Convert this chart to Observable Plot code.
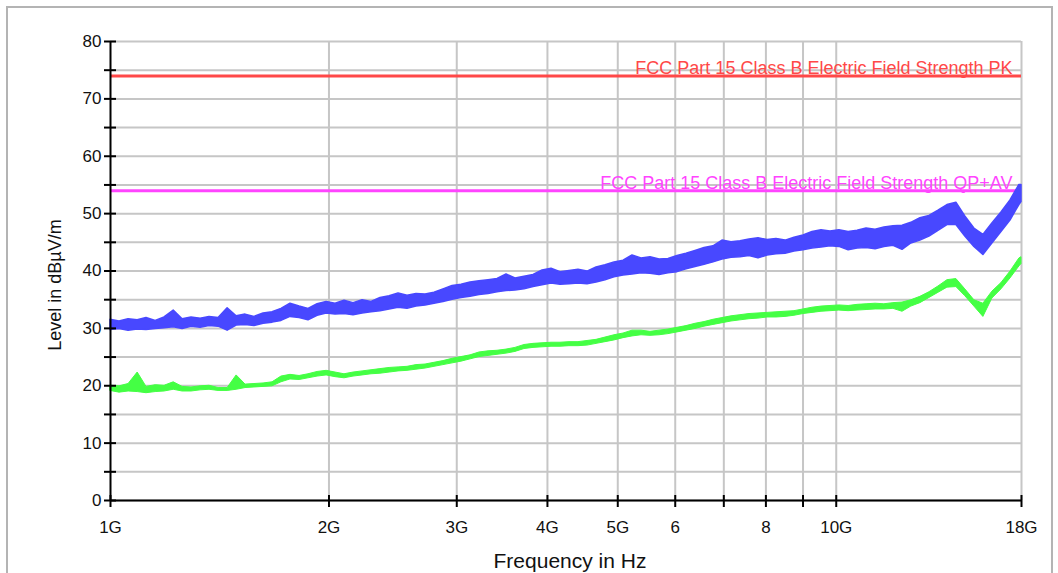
<!DOCTYPE html>
<html>
<head>
<meta charset="utf-8">
<script src="https://cdn.jsdelivr.net/npm/d3@7"></script>
<script src="https://cdn.jsdelivr.net/npm/@observablehq/plot@0.6"></script>
<style>
  html, body { margin: 0; padding: 0; background: #fff; overflow: hidden; }
  #wrap { position: relative; width: 1058px; height: 573px; }
  #border { position: absolute; left: 6px; top: 6px; width: 1047px; height: 600px; border: 2px solid #b4b4b4; box-sizing: border-box; }
  #chart { position: absolute; left: 0; top: 0; }
</style>
</head>
<body>
<div id="wrap"><div id="border"></div><div id="chart"></div></div>
<script>
// Frequency in GHz
const freqGHz = [1.000,1.029,1.059,1.090,1.121,1.154,1.187,1.222,1.257,1.293,1.331,1.369,1.409,1.450,1.492,1.535,1.579,1.625,1.672,1.720,1.770,1.822,1.874,1.929,1.985,2.042,2.101,2.162,2.225,2.289,2.355,2.424,2.494,2.566,2.640,2.717,2.795,2.876,2.960,3.045,3.134,3.224,3.318,3.414,3.513,3.614,3.719,3.827,3.938,4.052,4.169,4.290,4.414,4.542,4.674,4.809,4.948,5.092,5.239,5.391,5.547,5.708,5.873,6.043,6.218,6.398,6.584,6.774,6.970,7.172,7.380,7.594,7.814,8.040,8.273,8.513,8.759,9.013,9.274,9.543,9.819,10.10,10.40,10.70,11.01,11.33,11.65,11.99,12.34,12.69,13.06,13.44,13.83,14.23,14.64,15.06,15.50,15.95,16.41,16.89,17.38,17.88,18.0];

// Peak trace (blue): lower and upper edge of the noisy band, dBµV/m
const peakLo = [29.7,29.9,29.6,29.8,29.7,29.9,30.0,30.2,29.9,30.3,30.1,30.4,30.3,29.6,30.5,30.6,30.4,30.8,31.0,31.3,32.0,31.8,31.4,32.2,32.6,32.4,32.5,32.3,32.6,32.8,33.0,33.3,33.6,33.4,33.8,34.0,34.3,34.6,35.0,35.3,35.5,35.8,36.0,36.3,36.5,36.6,36.8,37.2,37.5,37.8,37.6,37.7,37.8,37.7,38.0,38.4,38.9,39.2,39.4,39.6,39.5,39.3,39.6,39.8,40.3,40.7,41.1,41.5,42.0,42.3,42.4,42.6,42.2,42.7,42.9,43.0,43.4,43.6,43.9,44.1,44.3,44.2,43.6,43.9,44.0,43.8,44.2,44.4,43.7,44.8,45.3,46.0,47.0,48.0,48.0,46.0,44.2,42.8,44.8,46.8,48.8,51.5,52.0];
const peakHi = [31.5,31.2,31.6,31.4,31.8,31.3,31.9,33.1,31.6,31.9,31.7,32.0,31.8,33.5,32.1,32.4,32.0,32.6,32.8,33.4,34.3,33.8,33.4,34.2,34.6,34.3,34.8,34.4,34.9,34.6,35.3,35.6,36.1,35.7,36.0,35.9,36.2,36.8,37.4,37.6,38.0,38.2,38.4,38.6,39.4,38.7,39.0,39.3,40.1,40.4,39.8,40.0,40.2,39.9,40.6,41.0,41.5,41.8,42.7,42.2,42.4,42.0,42.1,42.6,43.0,43.5,44.0,44.3,45.3,45.0,45.2,45.5,45.7,45.4,45.6,45.3,45.8,46.2,46.8,47.1,46.9,47.1,46.8,47.0,47.4,47.2,47.6,47.8,47.9,48.4,49.2,49.6,50.5,51.5,51.9,49.5,47.4,46.3,48.3,50.2,52.3,55.0,55.0];

// Average trace (green): lower and upper edge, dBµV/m
const avgLo = [19.1,18.8,19.0,18.9,18.7,18.9,19.0,19.3,19.0,19.0,19.2,19.3,19.1,19.1,19.3,19.6,19.7,19.8,19.9,20.6,21.1,21.0,21.3,21.6,21.8,21.5,21.3,21.6,21.8,22.0,22.1,22.3,22.5,22.6,22.8,23.0,23.3,23.6,23.9,24.2,24.6,25.0,25.2,25.4,25.6,25.9,26.4,26.6,26.7,26.8,26.8,26.9,26.9,27.0,27.3,27.6,27.9,28.3,28.6,28.8,28.7,28.8,29.0,29.3,29.6,29.9,30.3,30.6,30.9,31.2,31.4,31.6,31.7,31.9,31.9,32.0,32.2,32.5,32.7,32.9,33.0,33.1,33.0,33.1,33.2,33.3,33.3,33.4,32.9,33.8,34.4,35.3,36.2,37.1,37.2,35.6,33.8,32.0,35.2,36.8,38.7,40.8,41.2];
const avgHi = [20.0,19.9,20.3,22.3,19.8,20.1,20.0,20.6,19.8,19.7,19.9,20.0,19.6,19.6,21.8,20.2,20.3,20.4,20.6,21.6,21.9,21.7,22.0,22.4,22.6,22.3,22.0,22.3,22.5,22.7,22.9,23.1,23.2,23.3,23.6,23.7,24.0,24.3,24.7,25.0,25.3,25.8,26.0,26.1,26.3,26.6,27.1,27.3,27.4,27.5,27.5,27.6,27.6,27.8,28.0,28.4,28.8,29.1,29.6,29.6,29.4,29.6,29.8,30.1,30.4,30.8,31.1,31.5,31.8,32.1,32.3,32.5,32.6,32.7,32.8,32.9,33.0,33.3,33.6,33.8,33.9,34.0,33.9,34.1,34.2,34.3,34.2,34.4,34.5,34.9,35.5,36.3,37.3,38.4,38.6,36.8,34.9,34.3,36.4,37.9,39.9,42.2,42.4];

// Limit lines
const limitNames = ["FCC Part 15 Class B Electric Field Strength PK", "FCC Part 15 Class B Electric Field Strength QP+AV"];
const limitValues = [74, 54];
const limitColors = ["#ff4848", "#ff44ff"];

// Axes
const yMinorTicks = [0,5,10,15,20,25,30,35,40,45,50,55,60,65,70,75,80];
const yLabelTicks = [0,10,20,30,40,50,60,70,80];
const xTicks = [1,2,3,4,5,6,7,8,9,10,18];
const xGridLines = [2,3,4,5,6,7,8,9,10,18];
const xLabelTicks = [1,2,3,4,5,6,8,10,18];
const xLabels = ["1G","2G","3G","4G","5G","6","8","10G","18G"];
const xTitle = "Frequency in Hz";
const yTitle = "Level in dBµV/m";

const rows = freqGHz.map((f, i) => ({f, pLo: peakLo[i], pHi: peakHi[i], aLo: avgLo[i], aHi: avgHi[i]}));
const limits = limitNames.map((n, i) => ({name: n, value: limitValues[i], color: limitColors[i]}));
const xLabelMap = new Map(xLabelTicks.map((t, i) => [t, xLabels[i]]));

const BLUE = "#4848ff", GREEN = "#44ff44", GRID = "#c6c6c6";

const chart = Plot.plot({
  width: 1058,
  height: 573,
  marginLeft: 110,
  marginRight: 37,
  marginTop: 41,
  marginBottom: 73,
  x: {type: "log", domain: [1, 18]},
  y: {domain: [0, 80]},
  style: {fontFamily: "'Liberation Sans', Arial, sans-serif", fontSize: "17px", color: "#111", background: "transparent"},
  marks: [
    Plot.ruleY(yMinorTicks, {stroke: GRID, strokeWidth: 2}),
    Plot.ruleX(xGridLines, {stroke: GRID, strokeWidth: 2}),
    Plot.areaY(rows, {x: "f", y1: "aLo", y2: "aHi", curve: "linear", fill: GREEN, stroke: GREEN, strokeWidth: 1}),
    Plot.ruleY(limits, {y: "value", stroke: "color", strokeWidth: 3}),
    Plot.text(limits, {x: 18, y: "value", text: "name", fill: "color", textAnchor: "end", lineAnchor: "bottom", dx: -9, dy: -2, fontSize: 18}),
    Plot.areaY(rows, {x: "f", y1: "pLo", y2: "pHi", curve: "linear", fill: BLUE, stroke: BLUE, strokeWidth: 1.5}),
    Plot.ruleX([1], {stroke: "#000", strokeWidth: 2}),
    Plot.ruleY([0], {stroke: "#000", strokeWidth: 2}),
    Plot.axisY({ticks: yMinorTicks, tickSize: 12, dx: 6, tickFormat: () => "", label: null, stroke: "#000", strokeWidth: 2}),
    Plot.axisY({ticks: yLabelTicks, tickSize: 0, tickPadding: 9, label: null, fontSize: 17}),
    Plot.axisX({ticks: xTicks, tickSize: 12, dy: -5, tickFormat: () => "", label: null, stroke: "#000", strokeWidth: 2}),
    Plot.axisX({ticks: xLabelTicks, tickSize: 0, tickPadding: 20, tickFormat: d => xLabelMap.get(d), label: null, fontSize: 17}),
    Plot.text([yTitle], {frameAnchor: "left", rotate: -90, textAnchor: "middle", dx: -55, dy: 14, fontSize: 18, fill: "#111"}),
    Plot.text([xTitle], {frameAnchor: "bottom", textAnchor: "middle", lineAnchor: "middle", dx: 4, dy: 61, fontSize: 21, fill: "#111"})
  ]
});
document.getElementById("chart").appendChild(chart);
</script>
</body>
</html>
